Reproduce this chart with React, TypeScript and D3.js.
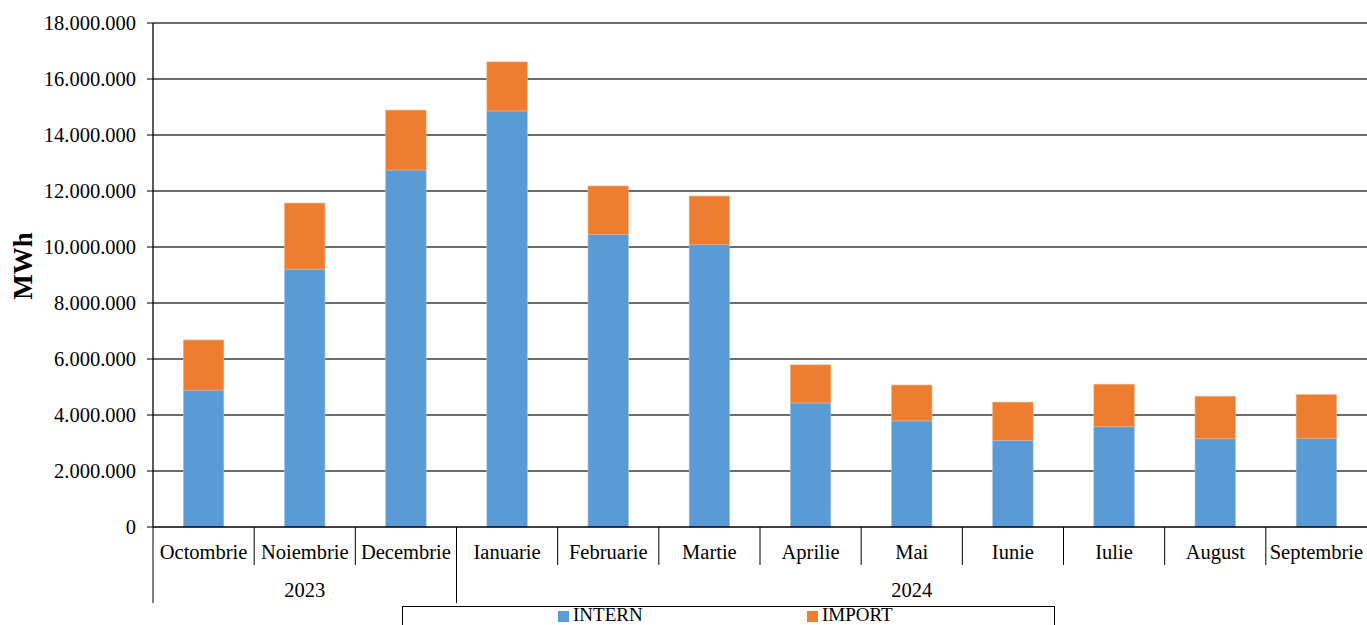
import React from "react";
import * as d3 from "d3";

const months = ["Octombrie","Noiembrie","Decembrie","Ianuarie","Februarie","Martie","Aprilie","Mai","Iunie","Iulie","August","Septembrie"];
const years = [{ label: "2023", from: 0, to: 3 }, { label: "2024", from: 3, to: 12 }];
const intern = [4890000, 9210000, 12750000, 14860000, 10450000, 10080000, 4430000, 3790000, 3100000, 3580000, 3150000, 3170000];
const importV = [1790000, 2360000, 2140000, 1750000, 1730000, 1740000, 1360000, 1280000, 1360000, 1520000, 1520000, 1560000];
const yTicks = [0, 2000000, 4000000, 6000000, 8000000, 10000000, 12000000, 14000000, 16000000, 18000000];
const seriesNames = ["INTERN", "IMPORT"];
const colors = ["#5B9BD5", "#ED7D31"];

const W = 1367, H = 625;
const left = 153, right = 1367, top = 23, bottom = 527;

const fmt = (v: number) => d3.format(",")(v).replace(/,/g, ".");

export default function App() {
  const x = d3.scaleBand<number>().domain(d3.range(months.length)).range([left, right]).paddingInner(0).paddingOuter(0);
  const y = d3.scaleLinear().domain([0, 18000000]).range([bottom, top]);
  const bw = x.bandwidth() * 0.4;
  const stackData = months.map((m, i) => ({ intern: intern[i], import: importV[i] }));
  const stacked = d3.stack<any>().keys(["intern", "import"])(stackData);
  const font = '"Liberation Serif", "Times New Roman", "DejaVu Serif", serif';
  const fs = 20.5;
  return (
    <svg width={W} height={H} style={{ position: "absolute", left: 0, top: 0, background: "#fff", fontFamily: font }}>
      {yTicks.map((t) => (
        <g key={t}>
          {t > 0 && <line x1={left} x2={right} y1={y(t)} y2={y(t)} stroke="#3a3a3a" strokeWidth={1.3} />}
          <line x1={left - 6} x2={left} y1={y(t)} y2={y(t)} stroke="#000" strokeWidth={1} />
          <text x={left - 17} y={y(t)} dy="0.35em" textAnchor="end" fontSize={fs}>{fmt(t)}</text>
        </g>
      ))}
      {stacked.map((s, si) => (
        <g key={si}>
          {s.map((d, i) => (
            <rect key={i} x={x(i)! + (x.bandwidth() - bw) / 2} width={bw} y={y(d[1])} height={y(d[0]) - y(d[1])}
              fill={colors[si]} stroke={si === 0 ? "#9dc3e6" : "#f4b183"} strokeWidth={0.6} />
          ))}
        </g>
      ))}
      <line x1={left} x2={left} y1={top} y2={bottom} stroke="#000" strokeWidth={1.3} />
      <line x1={left} x2={right} y1={bottom} y2={bottom} stroke="#000" strokeWidth={1.3} />
      {months.map((m, i) => (
        <g key={m}>
          {i > 0 && !years.some((yy) => yy.from === i) && (
            <line x1={x(i)!} x2={x(i)!} y1={bottom} y2={565} stroke="#000" strokeWidth={1} />
          )}
          <text x={x(i)! + x.bandwidth() / 2} y={559} textAnchor="middle" fontSize={fs}>{m}</text>
        </g>
      ))}
      {years.map((yy) => (
        <g key={yy.label}>
          <line x1={x(yy.from)!} x2={x(yy.from)!} y1={bottom} y2={603} stroke="#000" strokeWidth={1} />
          <text x={(x(yy.from)! + (yy.to < months.length ? x(yy.to)! : right)) / 2} y={597} textAnchor="middle" fontSize={fs}>{yy.label}</text>
        </g>
      ))}
      <text transform={`translate(32, 266) rotate(-90)`} textAnchor="middle" fontSize={27} fontWeight="bold">MWh</text>
      <rect x={402.5} y={606.5} width={652} height={30} fill="none" stroke="#000" strokeWidth={1} />
      {seriesNames.map((n, i) => (
        <g key={n}>
          <rect x={558 + i * 249} y={611} width={11} height={11} fill={colors[i]} />
          <text x={573 + i * 249} y={621} fontSize={19}>{n}</text>
        </g>
      ))}
    </svg>
  );
}
